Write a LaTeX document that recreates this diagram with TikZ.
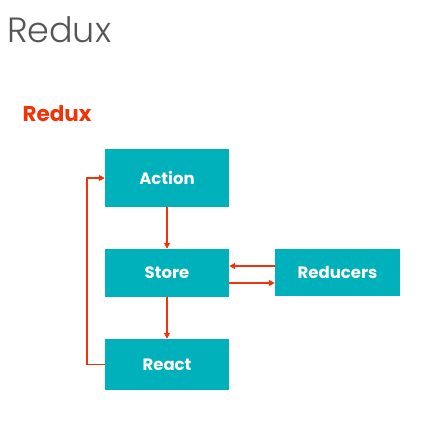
\documentclass[tikz,border=0pt]{standalone}
\usepackage{fontspec}
\setmainfont{Poppins}
\newfontfamily\lightfont{Poppins}[UprightFont=* Light]
\usetikzlibrary{arrows.meta}
\definecolor{boxteal}{RGB}{0,176,186}
\definecolor{arrowred}{RGB}{240,52,10}
\definecolor{titlegray}{RGB}{85,85,85}
\tikzset{
  block/.style={fill=boxteal,text=white,font=\fontsize{16.5}{18}\selectfont\bfseries,
    minimum width=124pt,inner sep=0pt},
  link/.style={draw=arrowred,line width=1.6pt,-{Triangle[length=6pt,width=6pt]}}
}
\begin{document}
\begin{tikzpicture}[x=1pt,y=-1pt]
\useasboundingbox (0,0) rectangle (427,427);

\node[anchor=base west,text=titlegray,font=\fontsize{35}{40}\lightfont] (title) at (3.5,43) {Redux};
\node[anchor=base west,text=arrowred,font=\fontsize{21.5}{24}\selectfont\bfseries] (sub) at (19,122) {Redux};

\node[block,minimum height=58pt] (action) at (167,178) {Action};
\node[block,minimum height=48pt] (store) at (167,273) {Store};
\node[block,minimum height=51pt] (react) at (167,364.5) {React};
\node[block,minimum height=47pt,minimum width=125pt] (reducers) at (337.5,272) {Reducers};

\draw[link] (action) -- (store);
\draw[link] (store) -- (react);
\draw[link] (reducers.west |- 0,266) -- (store.east |- 0,266);
\draw[link] (store.east |- 0,283) -- (reducers.west |- 0,283);
\draw[link] (react.west) -- (87,364.5) -- (87,178) -- (action.west);
\end{tikzpicture}
\end{document}
